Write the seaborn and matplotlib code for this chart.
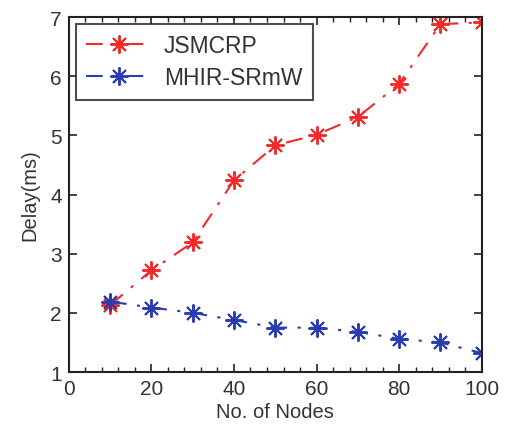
import matplotlib
matplotlib.use("Agg")
import matplotlib.pyplot as plt
from matplotlib.ticker import MultipleLocator
import pandas as pd
import seaborn as sns

nodes = [10, 20, 30, 40, 50, 60, 70, 80, 90, 100]
jsmcrp = [2.13, 2.72, 3.19, 4.24, 4.83, 5.01, 5.31, 5.87, 6.88, 6.91]
mhir_srmw = [2.19, 2.09, 2.00, 1.88, 1.75, 1.75, 1.68, 1.56, 1.50, 1.32]
series_names = ["JSMCRP", "MHIR-SRmW"]
series_colors = ["#f42a2a", "#2a3cb0"]

df = pd.DataFrame({
    "nodes": nodes * 2,
    "delay": jsmcrp + mhir_srmw,
    "protocol": [series_names[0]] * len(nodes) + [series_names[1]] * len(nodes),
})

sns.set_style("white")
plt.rcParams["font.family"] = ["Liberation Sans", "DejaVu Sans"]

fig = plt.figure(figsize=(5.06, 4.35), dpi=100)
ax = fig.add_axes([0.136, 0.1425, 0.816, 0.816])

sns.lineplot(data=df, x="nodes", y="delay", hue="protocol",
             palette=dict(zip(series_names, series_colors)),
             linewidth=1.5, ax=ax)

# MATLAB-style asterisk markers on dash-dot lines
asterisk = (8, 2, 0)
dashdot = (0, (8, 5, 1.5, 5))


def style_line(line):
    c = line.get_color()
    line.set_linestyle(dashdot)
    line.set_marker(asterisk)
    line.set_markersize(13)
    line.set_markeredgewidth(1.4)
    line.set_markeredgecolor(c)
    line.set_markerfacecolor(c)


for line in ax.get_lines():
    style_line(line)

ax.set_xlim(0, 100)
ax.set_ylim(1, 7)
ax.xaxis.set_major_locator(MultipleLocator(20))
ax.xaxis.set_minor_locator(MultipleLocator(4))
ax.yaxis.set_major_locator(MultipleLocator(1))
ax.tick_params(axis="both", which="both", direction="in",
               bottom=True, left=True, top=True, right=True,
               colors="#222222", labelcolor="#333333")
ax.tick_params(axis="both", which="major", length=6, width=1.2, labelsize=15, pad=5)
ax.tick_params(axis="x", which="minor", length=3.5, width=1.0)
for side in ax.spines.values():
    side.set_color("#222222")
    side.set_linewidth(1.5)

ax.set_xlabel("No. of Nodes", fontsize=14.5, color="#333333", labelpad=3)
ax.set_ylabel("Delay(ms)", fontsize=14.5, color="#333333", labelpad=8)

handles, labels = ax.get_legend_handles_labels()
leg = ax.legend(handles, labels, loc="upper left", fontsize=16.5, frameon=True,
                fancybox=False, edgecolor="#222222", borderpad=0.45,
                handlelength=2.9, handletextpad=0.5, labelspacing=0.4,
                bbox_to_anchor=(0.0, 1.0), borderaxespad=0.3)
leg.get_frame().set_linewidth(1.5)
for h in leg.legend_handles:
    style_line(h)
for t in leg.get_texts():
    t.set_color("#333333")

fig.savefig("out.png", dpi=100)
